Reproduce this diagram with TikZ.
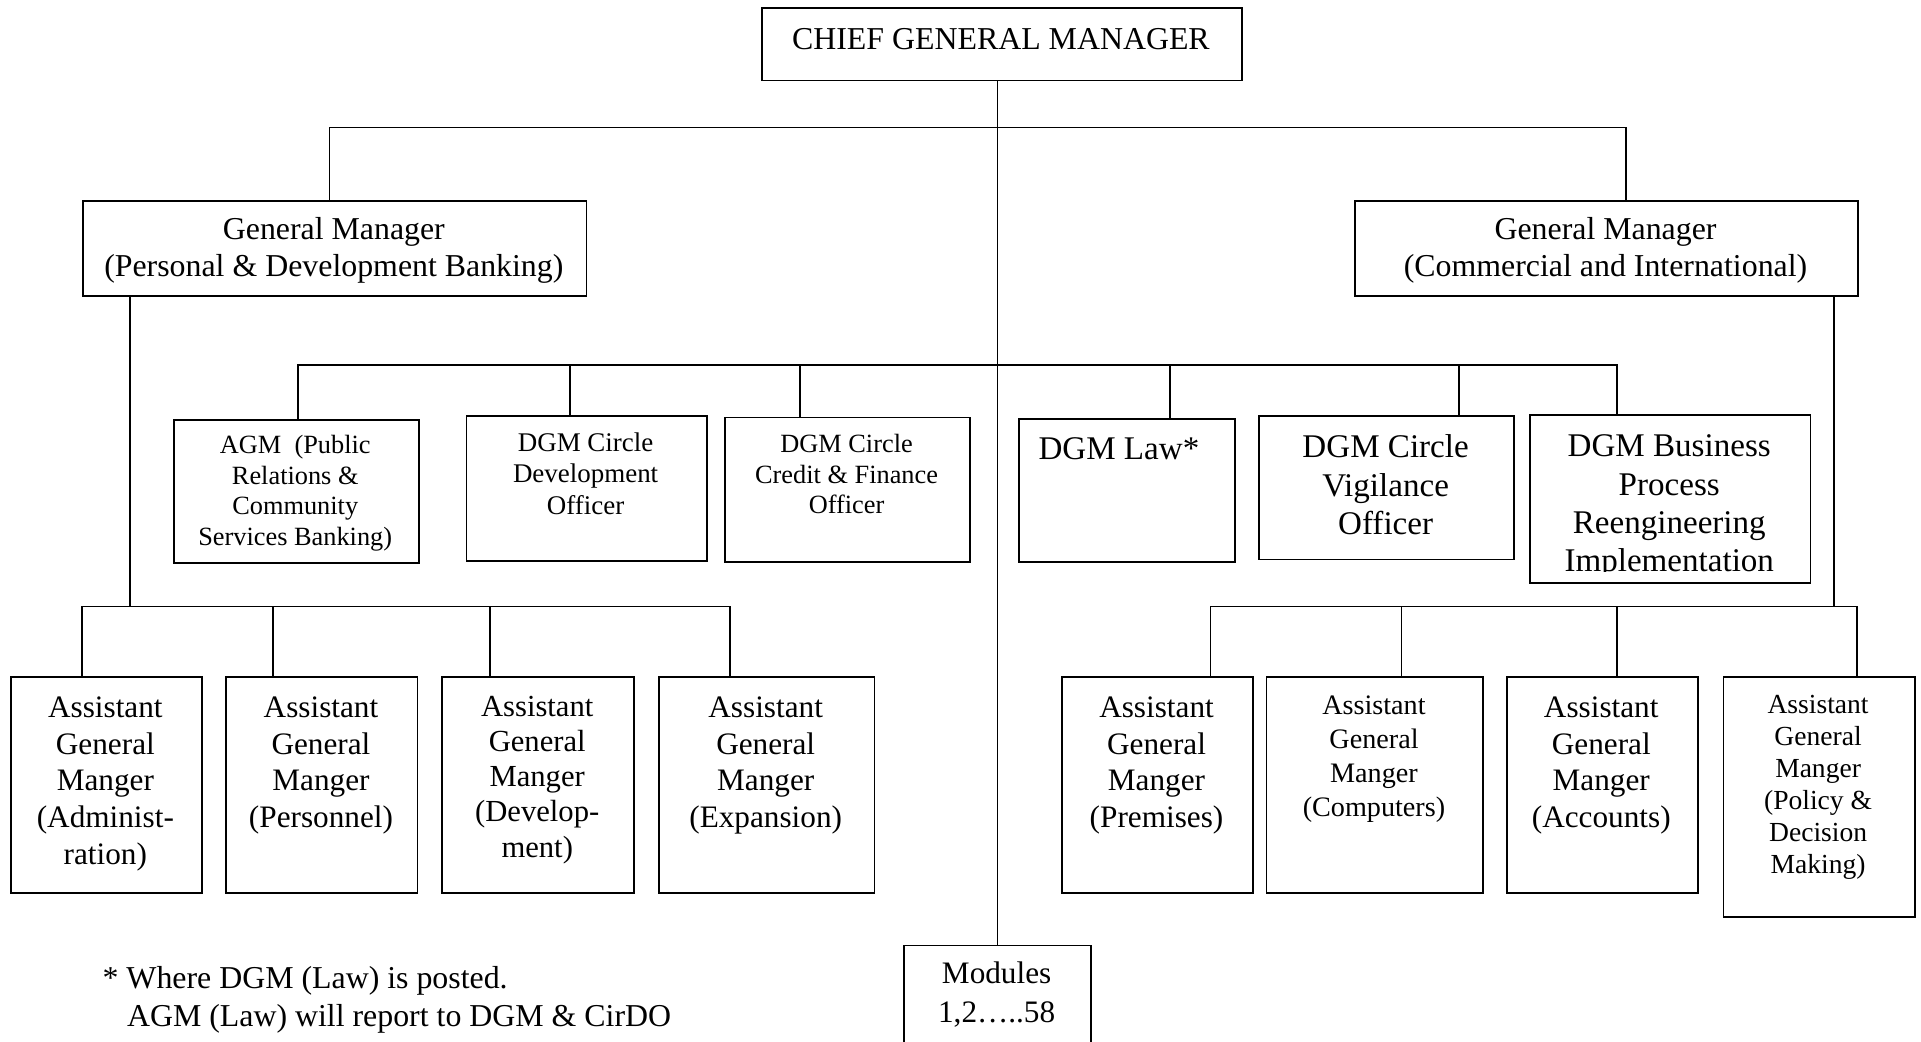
\documentclass[tikz,border=0pt]{standalone}
\usepackage{fontspec}
\setmainfont{Liberation Serif}
\begin{document}
\begin{tikzpicture}[x=1pt,y=-1pt,
  line width=1.4pt,
  box/.style={draw, line width=1.5pt, inner sep=0pt, anchor=north west},
  % text placed by the baseline of its first line
  lbl/.style 2 args={inner sep=0pt, align=center, anchor=north,
    font=\fontsize{#1}{#2}\selectfont, yshift=0.9*#1pt,
    execute at begin node={\rule{0pt}{.9em}}},
]
\fill[white] (0,0) rectangle (1568,850);
\clip (0,0) rectangle (1568,850);

% ---------- boxes ----------
\node[box, minimum width=392pt, minimum height=59pt]  (cgm)   at (621,6)    {};
\node[box, minimum width=411pt, minimum height=78pt]  (gml)   at (67,163)   {};
\node[box, minimum width=411pt, minimum height=78pt]  (gmr)   at (1105,163) {};

\node[box, minimum width=200pt, minimum height=117pt] (agmpr) at (141,342)  {};
\node[box, minimum width=196pt, minimum height=118pt] (cdo)   at (380,339)  {};
\node[box, minimum width=200pt, minimum height=118pt] (cfo)   at (591,340)  {};
\node[box, minimum width=176pt, minimum height=117pt] (law)   at (831,341)  {};
\node[box, minimum width=208pt, minimum height=117pt] (cvo)   at (1027,339) {};
\node[box, minimum width=229pt, minimum height=137pt] (bpr)   at (1248,338) {};

\node[box, minimum width=156pt, minimum height=176pt] (adm)   at (8,552)    {};
\node[box, minimum width=156pt, minimum height=176pt] (per)   at (184,552)  {};
\node[box, minimum width=157pt, minimum height=176pt] (dev)   at (360,552)  {};
\node[box, minimum width=176pt, minimum height=176pt] (exp)   at (537,552)  {};

\node[box, minimum width=156pt, minimum height=176pt] (pre)   at (866,552)  {};
\node[box, minimum width=177pt, minimum height=176pt] (com)   at (1033,552) {};
\node[box, minimum width=156pt, minimum height=176pt] (acc)   at (1229,552) {};
\node[box, minimum width=156pt, minimum height=196pt] (pol)   at (1406,552) {};

\node[box, minimum width=153pt, minimum height=100pt] (mod)   at (737,771)  {};

% ---------- junction points ----------
\coordinate (t1) at (269,104);  \coordinate (t2) at (1327,104);
\coordinate (m1) at (243,298);  \coordinate (m2) at (465,298);
\coordinate (m3) at (653,298);  \coordinate (m4) at (955,298);
\coordinate (m5) at (1191,298); \coordinate (m6) at (1320,298);
\coordinate (lv) at (106,495);
\coordinate (b1) at (67,495);   \coordinate (b2) at (223,495);
\coordinate (b3) at (400,495);  \coordinate (b4) at (596,495);
\coordinate (rv) at (1497,495);
\coordinate (r1) at (988,495);  \coordinate (r2) at (1144,495);
\coordinate (r3) at (1320,495); \coordinate (r4) at (1516,495);

% ---------- connectors ----------
\draw (mod.north |- cgm.south) -- (mod.north);
\draw (t1 |- gml.north) -- (t1) -- (t2) -- (t2 |- gmr.north);

\draw (m1 |- agmpr.north) -- (m1) -- (m6) -- (m6 |- bpr.north);
\draw (m2) -- (m2 |- cdo.north);
\draw (m3) -- (m3 |- cfo.north);
\draw (m4) -- (m4 |- law.north);
\draw (m5) -- (m5 |- cvo.north);

\draw (lv |- gml.south) -- (lv);
\draw (b1 |- adm.north) -- (b1) -- (b4) -- (b4 |- exp.north);
\draw (b2) -- (b2 |- per.north);
\draw (b3) -- (b3 |- dev.north);

\draw (rv |- gmr.south) -- (rv);
\draw (r1 |- pre.north) -- (r1) -- (r4) -- (r4 |- pol.north);
\draw (r2) -- (r2 |- com.north);
\draw (r3) -- (r3 |- acc.north);

% ---------- texts ----------
\node[lbl={26}{30}, anchor=base] (hdl) at (631,-3) {(};
\node[lbl={26}{30}, anchor=base] (hdr) at (917,-3) {)};

\node[lbl={26}{30}] (cgm-t) at (817,40) {CHIEF GENERAL MANAGER};
\node[lbl={26}{30}] (gml-t) at (272.5,200) {General Manager\\(Personal \& Development Banking)};
\node[lbl={26}{30}] (gmr-t) at (1310.5,200) {General Manager\\(Commercial and International)};

\node[lbl={21.5}{25}] (agmpr-t) at (241,374) {AGM\ \ (Public\\Relations \&\\Community\\Services Banking)};
\node[lbl={22}{25.5}] (cdo-t) at (478,372.5) {DGM Circle\\Development\\Officer};
\node[lbl={21.5}{25}] (cfo-t) at (691,373) {DGM Circle\\Credit \& Finance\\Officer};
\node[lbl={27}{31}, anchor=north west] (law-t) at (847,374) {DGM Law*};
\node[lbl={27}{31.3}] (cvo-t) at (1131,378.5) {DGM Circle\\Vigilance\\Officer};
\begin{scope}
  \clip (bpr.north west) rectangle ([yshift=10pt]bpr.south east);
  \node[lbl={27}{31.3}] (bpr-t) at (1362.5,378.5) {DGM Business\\Process\\Reengineering\\Implementation};
\end{scope}

\node[lbl={25.5}{30}] (adm-t) at (86,591) {Assistant\\General\\Manger\\(Administ-\\ration)};
\node[lbl={25.5}{30}] (per-t) at (262,591) {Assistant\\General\\Manger\\(Personnel)};
\node[lbl={25}{28.7}] (dev-t) at (438.5,590) {Assistant\\General\\Manger\\(Develop-\\ment)};
\node[lbl={25.5}{30}] (exp-t) at (625,591) {Assistant\\General\\Manger\\(Expansion)};

\node[lbl={25.5}{30}] (pre-t) at (944,591) {Assistant\\General\\Manger\\(Premises)};
\node[lbl={23}{27.7}] (com-t) at (1121.5,588) {Assistant\\General\\Manger\\(Computers)};
\node[lbl={25.5}{30}] (acc-t) at (1307,591) {Assistant\\General\\Manger\\(Accounts)};
\node[lbl={22.5}{26.2}] (pol-t) at (1484,587) {Assistant\\General\\Manger\\(Policy \&\\Decision\\Making)};

\node[lbl={25.5}{32}] (mod-t) at (813.5,807) {Modules\\1,2…..58};

\node[lbl={26}{31}, align=left, anchor=north west] (note) at (83,811.5)
  {* Where DGM (Law) is posted.\\\hspace*{20pt}AGM (Law) will report to DGM \& CirDO};
\end{tikzpicture}
\end{document}
